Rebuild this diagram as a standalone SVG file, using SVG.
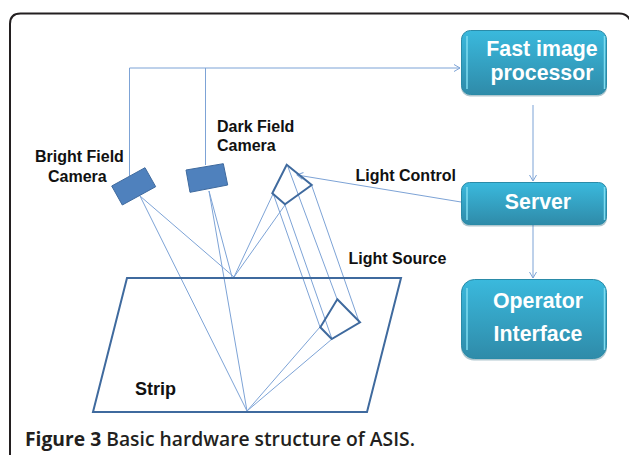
<svg xmlns="http://www.w3.org/2000/svg" width="629" height="455" viewBox="0 0 629 455">
<style>
.lab{font-family:"Liberation Sans",Arial,sans-serif;font-weight:700;font-size:16px;fill:#111}
.btn{font-family:"Liberation Sans",Arial,sans-serif;font-weight:700;font-size:21.300px;fill:#fff;text-anchor:middle}
.thin{fill:none;stroke:#7da3d6;stroke-width:1}
.strong{fill:none;stroke:#3f6a9e;stroke-width:2}
.cam{fill:#4f81bd;stroke:#3f6a9e;stroke-width:1}
.box{fill:url(#g);stroke:#2a8ba8;stroke-width:1}
.shadow{fill:#1d5f75;opacity:.35}
.edge{fill:none;stroke:#7fdcef;stroke-width:1.500}
.cap{font-family:"Open Sans","Noto Sans",sans-serif;font-size:19.300px;fill:#231f20}
</style>
<defs>
<linearGradient id="g" x1="0" y1="0" x2="0" y2="1"><stop offset="0" stop-color="#3ab9dd"/><stop offset="1" stop-color="#2f8ba9"/></linearGradient>
<marker id="a" markerWidth="9" markerHeight="9" refX="7" refY="4" orient="auto" markerUnits="userSpaceOnUse"><path d="M1 0.500L7 4L1 7.500" fill="none" stroke="#7da3d6" stroke-width="1"/></marker>
</defs>
<path id="frame" d="M10 455V24Q10 13.500 20.500 13.500H619Q627 13.500 630 20" fill="none" stroke="#231f20" stroke-width="2"/>
<g id="connectors">
<path class="thin" d="M129.500 176V68H460" marker-end="url(#a)"/>
<path class="thin" d="M205.500 68V165"/>
<path class="thin" d="M533 105V181" marker-end="url(#a)"/>
<path class="thin" d="M533 225V278" marker-end="url(#a)"/>
<path class="thin" d="M461 202L297 175" marker-end="url(#a)"/>
<path class="thin" d="M140 196L234 277M140 196L247 411M209 191L232 277M209 191L247 411"/>
<path class="thin" d="M273 194L234 277M285 205L234 277M320 327L247 411M332 339L247 411"/>
<path class="thin" d="M273 193L320 327M285 205L332 339M288 167L337 299M311.500 185L359.500 323"/>
</g>
<g id="strip"><path class="strong" d="M127 278H401L367 412H93Z"/><text class="lab" x="135" y="395" style="font-size:18px">Strip</text></g>
<g id="bright-camera"><path class="cam" d="M111.700 186L145 167.700L155.700 186.700L122.300 205Z"/><text class="lab" x="35" y="162">Bright Field</text><text class="lab" x="48" y="182">Camera</text></g>
<g id="dark-camera"><path class="cam" d="M186 170L223.300 163.700L227.700 185L190 192.300Z"/><text class="lab" x="217" y="132">Dark Field</text><text class="lab" x="217" y="151">Camera</text></g>
<g id="light-upper"><path class="strong" d="M286.700 164.700L311.700 185L285 204.300L272.300 193.300Z"/></g>
<g id="light-lower"><path class="strong" d="M337.300 299.300L360 322.300L331.700 339L320.300 327.300Z"/></g>
<g id="light-control"><text class="lab" x="355.500" y="181">Light Control</text></g>
<g id="light-source"><text class="lab" x="348.500" y="264">Light Source</text></g>
<g id="fast"><rect class="shadow" x="461" y="32" width="146" height="64.500" rx="9"/><rect class="box" x="461.500" y="30.500" width="145" height="64" rx="9"/><path class="edge" d="M467 36V89M604.500 36V89"/><text class="btn" x="542" y="56">Fast image</text><text class="btn" x="542" y="80">processor</text></g>
<g id="server"><rect class="shadow" x="461" y="184" width="146" height="42.500" rx="8"/><rect class="box" x="461.500" y="182.500" width="145" height="42" rx="8"/><path class="edge" d="M467 187V220M604.500 187V220"/><text class="btn" x="538" y="209">Server</text></g>
<g id="operator"><rect class="shadow" x="461" y="281" width="146" height="79.500" rx="13"/><rect class="box" x="461.500" y="279.500" width="145" height="79" rx="13"/><path class="edge" d="M467 288V350M604.500 288V350"/><text class="btn" x="538" y="308">Operator</text><text class="btn" x="538" y="341">Interface</text></g>
<text id="caption" class="cap" x="25" y="446"><tspan font-weight="700">Figure 3</tspan><tspan font-weight="600"> Basic hardware structure of ASIS.</tspan></text>
</svg>
